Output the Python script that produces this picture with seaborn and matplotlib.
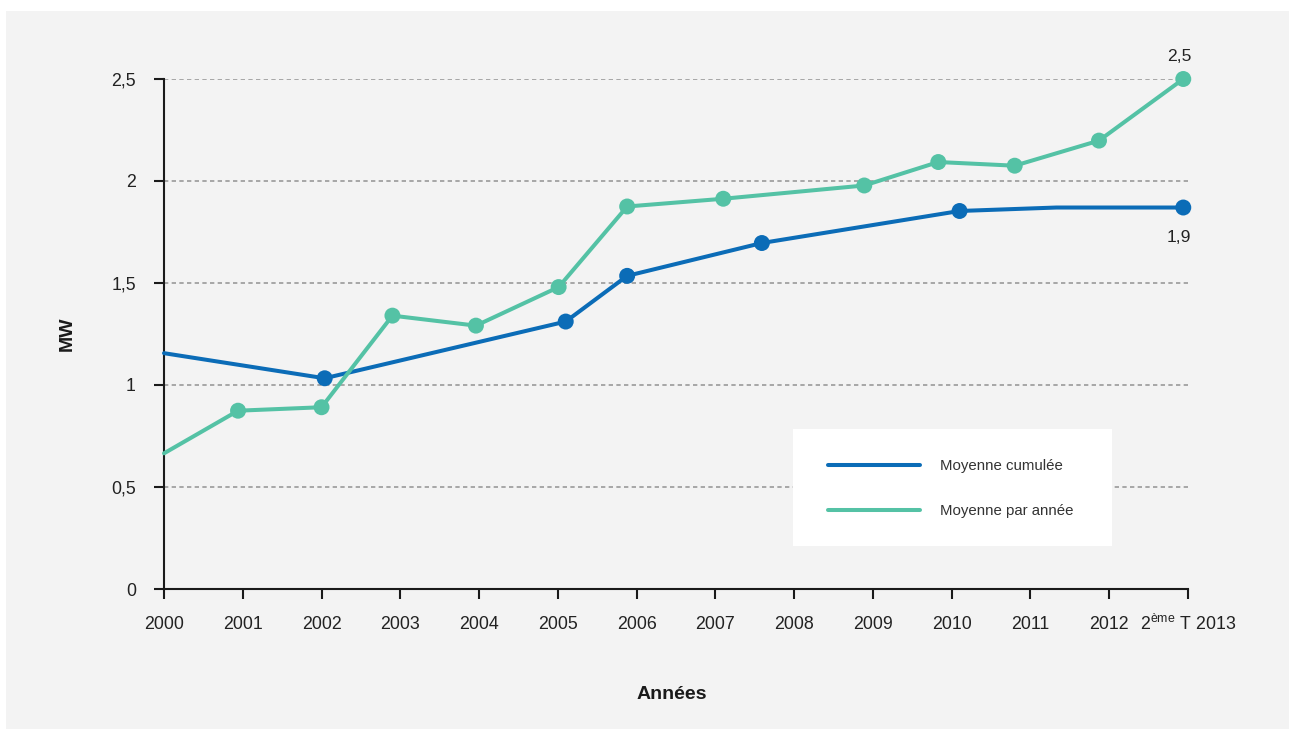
import matplotlib
matplotlib.use("Agg")
import matplotlib.pyplot as plt
from matplotlib.patches import Rectangle
from matplotlib.ticker import FuncFormatter
import seaborn as sns
import pandas as pd

# Moyenne par année (MW), positioned at the date of each data point
annee_x = [2000.0, 2000.94, 2002.0, 2002.90, 2003.96, 2005.01, 2005.88,
           2007.10, 2008.89, 2009.83, 2010.80, 2011.87, 2012.94]
annee_y = [0.665, 0.874, 0.891, 1.340, 1.291, 1.480, 1.875,
           1.913, 1.978, 2.093, 2.075, 2.198, 2.50]
annee_marker = [False, True, True, True, True, True, True,
                True, True, True, True, True, True]

# Moyenne cumulée (MW)
cumul_x = [2000.0, 2002.04, 2005.10, 2005.88, 2007.59, 2010.10, 2011.33, 2012.94]
cumul_y = [1.156, 1.033, 1.311, 1.535, 1.696, 1.853, 1.87, 1.87]
cumul_marker = [False, True, True, True, True, True, False, True]

years = list(range(2000, 2014))
year_labels = [str(y) for y in range(2000, 2013)]
last_label = "2$^{\\mathrm{ème}}$ T 2013"
y_ticks = [0, 0.5, 1, 1.5, 2, 2.5]

series_names = ["Moyenne cumulée", "Moyenne par année"]
BLUE = "#0b6cb7"
TEAL = "#54c2a5"
BG = "#f3f3f3"
TXT = "#222222"

sns.set_style("white")
plt.rcParams["font.family"] = ["Liberation Sans", "DejaVu Sans"]
plt.rcParams["mathtext.fontset"] = "custom"
plt.rcParams["mathtext.rm"] = "Liberation Sans"

W, H = 1289, 729
fig = plt.figure(figsize=(W / 100, H / 100), dpi=100, facecolor="white")
fig.patches.append(Rectangle((6 / W, 0), 1 - 6 / W, 1 - 11 / H,
                             transform=fig.transFigure, facecolor=BG,
                             edgecolor="none", zorder=-10))

ax = fig.add_axes([164 / W, 1 - 589 / H, 1024 / W, 510 / H])
ax.set_facecolor(BG)

df_cumul = pd.DataFrame({"x": cumul_x, "y": cumul_y, "m": cumul_marker})
df_annee = pd.DataFrame({"x": annee_x, "y": annee_y, "m": annee_marker})

lw = 2.9
ms = 132
sns.lineplot(data=df_cumul, x="x", y="y", ax=ax, color=BLUE, linewidth=lw,
             errorbar=None, label=series_names[0], zorder=3, clip_on=False)
sns.lineplot(data=df_annee, x="x", y="y", ax=ax, color=TEAL, linewidth=lw,
             errorbar=None, label=series_names[1], zorder=3, clip_on=False)
sns.scatterplot(data=df_cumul[df_cumul.m], x="x", y="y", ax=ax, color=BLUE,
                s=ms, edgecolor="none", linewidth=0, zorder=4, clip_on=False,
                legend=False)
sns.scatterplot(data=df_annee[df_annee.m], x="x", y="y", ax=ax, color=TEAL,
                s=ms, edgecolor="none", linewidth=0, zorder=4, clip_on=False,
                legend=False)

# End-of-series value labels
def fr(v):
    return f"{v:.1f}".replace(".", ",")

ax.annotate(fr(annee_y[-1]), (annee_x[-1], annee_y[-1]), xytext=(-3, 16.5),
            textcoords="offset points", ha="center", va="center",
            fontsize=12.6, color=TXT)
ax.annotate(fr(cumul_y[-1]), (cumul_x[-1], cumul_y[-1]), xytext=(-3, -21.5),
            textcoords="offset points", ha="center", va="center",
            fontsize=12.6, color=TXT)

ax.set_xlim(2000, 2013)
ax.set_ylim(0, 2.5)
ax.set_xticks(years)
ax.set_xticklabels(year_labels + [""])
ax.set_yticks(y_ticks)
ax.yaxis.set_major_formatter(FuncFormatter(lambda v, p: f"{v:g}".replace(".", ",")))

# Last tick label carries a superscript, so it is placed on the common baseline
ax.annotate(last_label, xy=(2013, 0), xytext=(0, -29.3),
            textcoords="offset points", ha="center", va="baseline",
            fontsize=12.8, color=TXT, annotation_clip=False)

for v in y_ticks[1:]:
    ax.axhline(v, color="#9a9a9a", linewidth=1.2, linestyle=(0, (2.6, 2.0)),
               zorder=1)

for s in ["top", "right"]:
    ax.spines[s].set_visible(False)
for s in ["left", "bottom"]:
    ax.spines[s].set_color("#1a1a1a")
    ax.spines[s].set_linewidth(1.5)
    ax.spines[s].set_zorder(2)

ax.tick_params(axis="y", direction="out", length=7.2, width=1.5,
               color="#1a1a1a", pad=13, labelsize=12.8, labelcolor=TXT,
               left=True)
ax.tick_params(axis="x", direction="out", length=7.2, width=1.5,
               color="#1a1a1a", pad=12.5, labelsize=12.8, labelcolor=TXT,
               bottom=True)

ax.set_xlabel("Années", fontsize=14, fontweight="bold", color="#1a1a1a")
ax.set_ylabel("MW", fontsize=14, fontweight="bold", color="#1a1a1a")
ax.xaxis.set_label_coords(0.496, -0.190)
ax.yaxis.set_label_coords(-0.086, 0.5)

# Legend panel
ax.add_patch(Rectangle((793 / W, 1 - 546 / H), 319 / W, 117 / H,
                       transform=fig.transFigure, facecolor="white",
                       edgecolor="none", zorder=3.5, clip_on=False))
handles, labels = ax.get_legend_handles_labels()
leg = ax.legend(handles, labels, loc="upper left",
                bbox_to_anchor=(828 / W, 1 - 459 / H),
                bbox_transform=fig.transFigure, frameon=False,
                borderpad=0, borderaxespad=0, fontsize=10.8,
                handlelength=6.1, handletextpad=1.35, labelspacing=2.1)
for t in leg.get_texts():
    t.set_color("#333333")
for h in leg.get_lines():
    h.set_linewidth(2.9)
leg.set_zorder(6)

fig.savefig("out.png", dpi=100, facecolor=fig.get_facecolor())
